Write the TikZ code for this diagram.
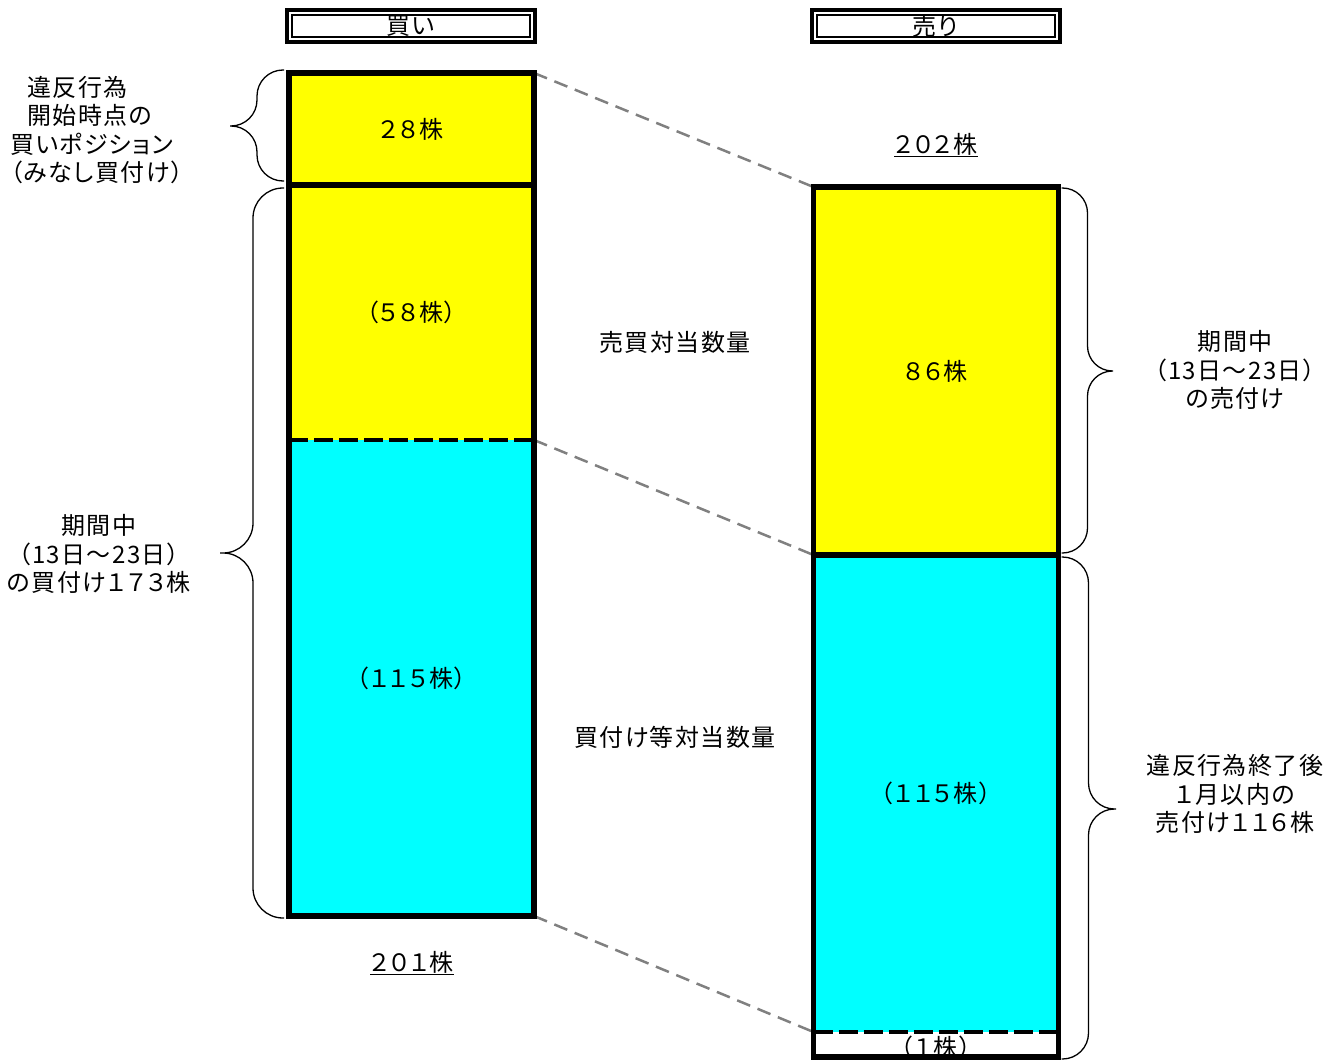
\documentclass[tikz,border=0pt]{standalone}
\usepackage{fontspec}
\newfontfamily\jpfont[RawFeature=+palt,LetterSpace=6]{Noto Sans CJK JP}
\usetikzlibrary{calc}
\definecolor{posyellow}{RGB}{255,255,0}
\definecolor{poscyan}{RGB}{0,255,255}
\definecolor{linkgray}{RGB}{128,128,128}
\tikzset{
  seg/.style={inner sep=0pt, outer sep=0pt, minimum width=245pt},
  colframe/.style={line width=5.5pt},
  cutline/.style={line width=4.5pt, dash pattern=on 19pt off 6pt},
  link/.style={draw=linkgray, line width=2.5pt, dash pattern=on 14pt off 8pt},
  headbox/.style={draw, line width=4pt, outer sep=0pt, inner sep=0pt,
    minimum width=248pt, minimum height=32pt},
  bracestroke/.style={line width=1.3pt, rounded corners=#1},
  bracestroke/.default=26pt,
}
\begin{document}
\begin{tikzpicture}[x=1pt,y=-1pt,font=\jpfont\fontsize{24}{28.5}\selectfont]
\useasboundingbox (0,0) rectangle (1341,1062);
% headers
\node[headbox] (hbuy) at (411,26) {買い};
\node[headbox] (hsell) at (935.5,26) {売り};
\foreach \h in {hbuy,hsell}
  \draw[line width=2pt] ([shift={(5pt,-5pt)}]\h.north west)
    rectangle ([shift={(-5pt,5pt)}]\h.south east);
% buy column
\node[seg, fill=posyellow, minimum height=112pt] (buyPos) at (411.5,129) {２８株};
\node[seg, fill=posyellow, minimum height=255pt] (buyMatch) at (411.5,312.5) {（５８株）};
\node[seg, fill=poscyan, minimum height=476pt] (buyRest) at (411.5,678) {（１１５株）};
% sell column
\node[seg, fill=posyellow, minimum height=368pt] (sellMatch) at (936,371) {８６株};
\node[seg, fill=poscyan, minimum height=477pt] (sellRest) at (936,793.5) {（１１５株）};
\node[seg, minimum height=25pt] (sellLast) at (936,1044.5) {};
\node (lastLbl) at ([yshift=-2.5pt]sellLast) {（１株）};
% links
\draw[link] (buyPos.north east) -- (sellMatch.north west);
\draw[link] (buyMatch.south east) -- (sellMatch.south west);
\draw[link] (buyRest.south east) -- (sellRest.south west);
% frames
\draw[colframe] (buyPos.north west) rectangle (buyRest.south east);
\draw[colframe] (buyPos.south west) -- (buyPos.south east);
\draw[cutline] (buyMatch.south west) -- (buyMatch.south east);
\draw[colframe] (sellMatch.north west) rectangle (sellLast.south east);
\draw[colframe] (sellMatch.south west) -- (sellMatch.south east);
\draw[cutline] (sellRest.south west) -- (sellRest.south east);
% totals and middle labels
\node (totBuy) at (412,963) {\underline{２０１株}};
\node (totSell) at (936,145) {\underline{２０２株}};
\node (lblMatch) at (675,342) {売買対当数量};
\node (lblBuyMatch) at (675,737) {買付け等対当数量};
% braces
\coordinate (tipPos) at (230,126);
\draw[bracestroke=26pt] ([shift={(-5pt,3pt)}]buyPos.north west) -- ++(-27,0) |- (tipPos)
  ([shift={(-5pt,4pt)}]buyPos.south west) -- ++(-27,0) |- (tipPos);
\coordinate (tipBuy) at (220,553);
\draw[bracestroke=30pt] ([shift={(-5pt,-3pt)}]buyMatch.north west) -- ++(-31,0) |- (tipBuy)
  ([shift={(-5pt,-2pt)}]buyRest.south west) -- ++(-31,0) |- (tipBuy);
\coordinate (tipSell) at (1113,371);
\draw[bracestroke=25pt] ([shift={(3pt,-1pt)}]sellMatch.north east) -- ++(26,0) |- (tipSell)
  ([shift={(3pt,2pt)}]sellMatch.south east) -- ++(26,0) |- (tipSell);
\coordinate (tipLate) at (1116,809);
\draw[bracestroke=26pt] ([shift={(3pt,-2pt)}]sellRest.north east) -- ++(27,0) |- (tipLate)
  ([shift={(3pt,-2pt)}]sellLast.south east) -- ++(27,0) |- (tipLate);
% side labels
\node[anchor=west, align=left, inner sep=0pt] (lblStart) at (10,130)
  {\hspace{17pt}違反行為\\\hspace{17pt}開始時点の\\買いポジション\\（みなし買付け）};
\node[align=center] (lblBuy) at (99,554) {期間中\\（13日～23日）\\の買付け１７３株};
\node[align=center] (lblSell) at (1235,370) {期間中\\（13日～23日）\\の売付け};
\node[align=center] (lblLate) at (1235,794) {違反行為終了後\\１月以内の\\売付け１１６株};
\end{tikzpicture}
\end{document}
